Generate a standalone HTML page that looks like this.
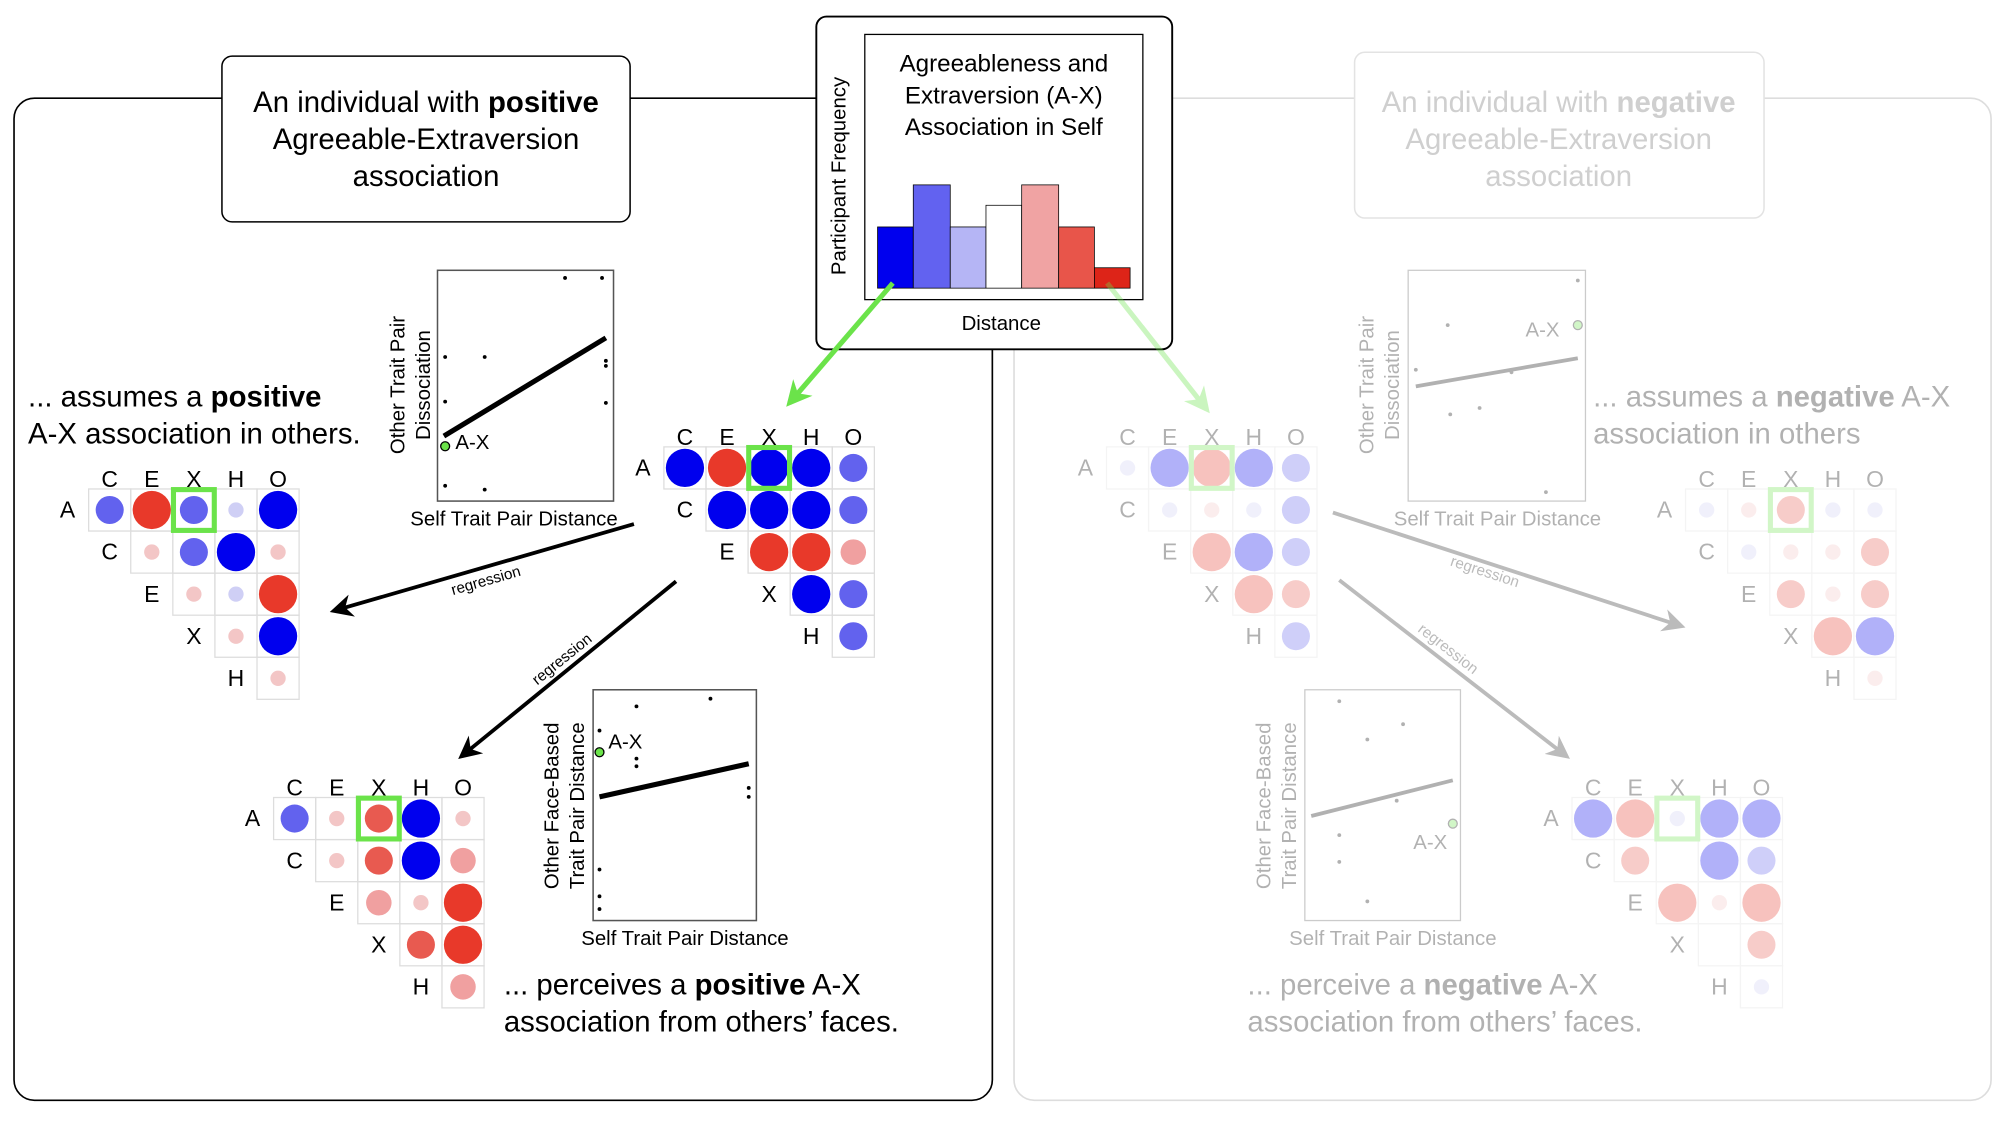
<!DOCTYPE html>
<html><head><meta charset="utf-8"><style>
html,body{margin:0;padding:0;background:#fff}
svg{display:block}
text{font-family:"Liberation Sans",Arial,sans-serif}
</style></head><body>
<svg id="s" xmlns="http://www.w3.org/2000/svg" width="2000" height="1122" viewBox="0 0 1568 880" preserveAspectRatio="none">
<defs>
<marker id="ab" viewBox="0 0 10 10" refX="8" refY="5" markerWidth="6" markerHeight="6" orient="auto"><path d="M0,0 L10,5 L0,10 L3,5z" fill="#000"/></marker>
<marker id="ag" viewBox="0 0 10 10" refX="8" refY="5" markerWidth="6" markerHeight="6" orient="auto"><path d="M0,0 L10,5 L0,10 L3,5z" fill="#bbb"/></marker>
<marker id="agr" viewBox="0 0 10 10" refX="8" refY="5" markerWidth="5" markerHeight="5" orient="auto"><path d="M0,0 L10,5 L0,10 L3,5z" fill="#6be34a"/></marker>
</defs>
<rect x="11" y="77" width="767" height="786" rx="16" fill="none" stroke="#000" stroke-width="1.3"/>
<rect x="795" y="77" width="766" height="786" rx="16" fill="none" stroke="#ddd" stroke-width="1.3"/>
<rect x="174" y="44" width="320" height="130" rx="8" fill="#fff" stroke="#000" stroke-width="1.2"/>
<g font-size="23" text-anchor="middle" fill="#000">
<text x="334" y="88">An individual with <tspan font-weight="bold">positive</tspan></text>
<text x="334" y="117">Agreeable-Extraversion</text>
<text x="334" y="146">association</text></g>
<rect x="1062" y="41" width="321" height="130" rx="8" fill="#fff" stroke="#e3e3e3" stroke-width="1.2"/>
<g font-size="23" text-anchor="middle" fill="#cfcfcf">
<text x="1222" y="88">An individual with <tspan font-weight="bold">negative</tspan></text>
<text x="1222" y="117">Agreeable-Extraversion</text>
<text x="1222" y="146">association</text></g>

<rect x="640" y="13" width="279" height="261" rx="8" fill="#fff" stroke="#000" stroke-width="1.5"/>
<rect x="678" y="27" width="218" height="208" fill="#fff" stroke="#000" stroke-width="1"/>
<g stroke="#000" stroke-width="0.6">
<rect x="688" y="178" width="28" height="48" fill="#0000ee"/>
<rect x="716" y="145" width="29" height="81" fill="#6262f0"/>
<rect x="745" y="178" width="28" height="48" fill="#b5b5f5"/>
<rect x="773" y="161" width="28" height="65" fill="#fff"/>
<rect x="801" y="145" width="29" height="81" fill="#f0a3a3"/>
<rect x="830" y="178" width="28" height="48" fill="#e8554a"/>
<rect x="858" y="210" width="28" height="16" fill="#dd2418"/></g>
<g font-size="19" text-anchor="middle"><text x="787" y="56">Agreeableness and</text><text x="787" y="81">Extraversion (A-X)</text><text x="787" y="106">Association in Self</text>
<text x="785" y="259" font-size="16">Distance</text>
<text transform="translate(663,138) rotate(-90)" font-size="16">Participant Frequency</text></g>
<line x1="700" y1="222" x2="619" y2="316" stroke="#6be34a" stroke-width="4" marker-end="url(#agr)"/>
<line x1="868" y1="222" x2="946" y2="321" stroke="#6be34a" stroke-width="4" opacity="0.35" marker-end="url(#agr)"/>

<g id="L"></g>
<rect x="343" y="212" width="138" height="181" fill="#fff" stroke="#555" stroke-width="1.2"/>
<line x1="348" y1="342" x2="475" y2="265" stroke="#000" stroke-width="4"/>
<g fill="#000"><circle cx="443" cy="218" r="1.5"/><circle cx="472" cy="218" r="1.5"/><circle cx="349" cy="280" r="1.5"/><circle cx="380" cy="280" r="1.5"/><circle cx="475" cy="283" r="1.5"/><circle cx="475" cy="287" r="1.5"/><circle cx="475" cy="316" r="1.5"/><circle cx="349" cy="315" r="1.5"/><circle cx="349" cy="381" r="1.5"/><circle cx="380" cy="384" r="1.5"/></g>
<circle cx="349" cy="350" r="3.5" fill="#6be34a" stroke="#000"/>
<text x="357" y="352" font-size="16">A-X</text>
<text transform="translate(317,302) rotate(-90)" font-size="16" text-anchor="middle">Other Trait Pair</text>
<text transform="translate(337,302) rotate(-90)" font-size="16" text-anchor="middle">Dissociation</text>
<text x="403" y="412" font-size="16" text-anchor="middle">Self Trait Pair Distance</text>
<rect x="465" y="541" width="128" height="181" fill="#fff" stroke="#555" stroke-width="1.2"/>
<line x1="470" y1="625" x2="587" y2="599" stroke="#000" stroke-width="4"/>
<g fill="#000"><circle cx="499" cy="554" r="1.5"/><circle cx="557" cy="548" r="1.5"/><circle cx="470" cy="573" r="1.5"/><circle cx="499" cy="595" r="1.5"/><circle cx="499" cy="601" r="1.5"/><circle cx="587" cy="618" r="1.5"/><circle cx="587" cy="625" r="1.5"/><circle cx="470" cy="682" r="1.5"/><circle cx="470" cy="703" r="1.5"/><circle cx="470" cy="713" r="1.5"/></g>
<circle cx="470" cy="590" r="3.5" fill="#6be34a" stroke="#000"/>
<text x="477" y="587" font-size="16">A-X</text>
<text transform="translate(438,632) rotate(-90)" font-size="16" text-anchor="middle">Other Face-Based</text>
<text transform="translate(458,632) rotate(-90)" font-size="16" text-anchor="middle">Trait Pair Distance</text>
<text x="537" y="741" font-size="16" text-anchor="middle">Self Trait Pair Distance</text>

<g font-size="23">
<text x="22" y="319">... assumes a <tspan font-weight="bold">positive</tspan></text>
<text x="22" y="348">A-X association in others.</text>
<text x="395" y="780">... perceives a <tspan font-weight="bold">positive</tspan> A-X</text>
<text x="395" y="809">association from others’ faces.</text></g>
<line x1="497" y1="411" x2="262" y2="479" stroke="#000" stroke-width="3" marker-end="url(#ab)"/>
<text transform="translate(382,459) rotate(-16)" font-size="12" text-anchor="middle">regression</text>
<line x1="530" y1="456" x2="362" y2="593" stroke="#000" stroke-width="3" marker-end="url(#ab)"/>
<text transform="translate(443,520) rotate(-39)" font-size="12" text-anchor="middle">regression</text>

<g opacity="0.3">
<g id="R"></g>
<rect x="1104" y="212" width="139" height="181" fill="none" stroke="#555"/>
<line x1="1110" y1="303" x2="1237" y2="281" stroke="#000" stroke-width="3"/>
<g fill="#000"><circle cx="1237" cy="220" r="1.5"/><circle cx="1135" cy="255" r="1.5"/><circle cx="1110" cy="290" r="1.5"/><circle cx="1185" cy="292" r="1.5"/><circle cx="1137" cy="325" r="1.5"/><circle cx="1160" cy="320" r="1.5"/><circle cx="1212" cy="386" r="1.5"/></g>
<circle cx="1237" cy="255" r="3.5" fill="#6be34a" stroke="#000"/>
<text x="1196" y="264" font-size="16">A-X</text>
<text transform="translate(1077,302) rotate(-90)" font-size="16" text-anchor="middle">Other Trait Pair</text>
<text transform="translate(1097,302) rotate(-90)" font-size="16" text-anchor="middle">Dissociation</text>
<text x="1174" y="412" font-size="16" text-anchor="middle">Self Trait Pair Distance</text>
<rect x="1023" y="541" width="122" height="181" fill="none" stroke="#555"/>
<line x1="1028" y1="640" x2="1139" y2="612" stroke="#000" stroke-width="3"/>
<g fill="#000"><circle cx="1050" cy="550" r="1.5"/><circle cx="1072" cy="580" r="1.5"/><circle cx="1100" cy="568" r="1.5"/><circle cx="1050" cy="655" r="1.5"/><circle cx="1050" cy="676" r="1.5"/><circle cx="1072" cy="707" r="1.5"/><circle cx="1095" cy="628" r="1.5"/></g>
<circle cx="1139" cy="646" r="3.5" fill="#6be34a" stroke="#000"/>
<text x="1108" y="666" font-size="16">A-X</text>
<text transform="translate(996,632) rotate(-90)" font-size="16" text-anchor="middle">Other Face-Based</text>
<text transform="translate(1016,632) rotate(-90)" font-size="16" text-anchor="middle">Trait Pair Distance</text>
<text x="1092" y="741" font-size="16" text-anchor="middle">Self Trait Pair Distance</text>
<g font-size="23">
<text x="1249" y="319">... assumes a <tspan font-weight="bold">negative</tspan> A-X</text>
<text x="1249" y="348">association in others</text>
<text x="978" y="780">... perceive a <tspan font-weight="bold">negative</tspan> A-X</text>
<text x="978" y="809">association from others’ faces.</text></g>
</g>
<line x1="1045" y1="402" x2="1318" y2="491" stroke="#bbb" stroke-width="3" marker-end="url(#ag)"/>
<text transform="translate(1163,452) rotate(18)" font-size="12" text-anchor="middle" fill="#bbb">regression</text>
<line x1="1050" y1="455" x2="1228" y2="593" stroke="#bbb" stroke-width="3" marker-end="url(#ag)"/>
<text transform="translate(1133,512) rotate(38)" font-size="12" text-anchor="middle" fill="#bbb">regression</text>
</svg>
<script>
var NS="http://www.w3.org/2000/svg";
var C={B:["#0000ee",15],R:["#e8392a",15],b:["#6262ee",11],r:["#e85a50",11],l:["#f3c6c6",6],u:["#cfcff5",6],L:["#f0a0a0",10],U:["#a8a8f2",10]};
function el(p,t,a){var e=document.createElementNS(NS,t);for(var k in a)e.setAttribute(k,a[k]);p.appendChild(e);return e;}
function mat(g,x0,y0,d,box){
 var cols="CEXHO",rows="ACEXH",s=33;
 for(var j=0;j<5;j++){var t=el(g,"text",{x:x0+j*s,y:y0-18,"font-size":18,"text-anchor":"middle"});t.textContent=cols[j];}
 for(var i=0;i<5;i++){
  var t=el(g,"text",{x:x0+(i-1)*s,y:y0+i*s+6,"font-size":18,"text-anchor":"middle"});t.textContent=rows[i];
  for(var j=i;j<5;j++){var cx=x0+j*s,cy=y0+i*s;
   el(g,"rect",{x:cx-16.5,y:cy-16.5,width:s,height:s,fill:"none",stroke:"#ddd","stroke-width":1});
   var k=d[i][j-i];if(k&&k!=".")el(g,"circle",{cx:cx,cy:cy,r:C[k][1],fill:C[k][0]});}
 }
 if(box)el(g,"rect",{x:x0+2*s-16,y:y0-16,width:32,height:32,fill:"none",stroke:"#6be34a","stroke-width":4});
}
var L=document.getElementById("L"),R=document.getElementById("R");
mat(L,537,367,["BRBBb","BBBb","RRL","Bb","b"],1);
mat(L,86,400,["bRbuB","lbBl","luR","lB","l"],1);
mat(L,231,642,["blrBl","lrBL","LlR","rR","L"],1);
mat(R,884,367,["uBRBb","ulub","RBb","Rr","b"],1);
mat(R,1338,400,["ulruu","ullr","rlr","RB","l"],1);
mat(R,1249,642,["BRuBB","r.Bb","RlR",".r","u"],1);
</script>
</body></html>
